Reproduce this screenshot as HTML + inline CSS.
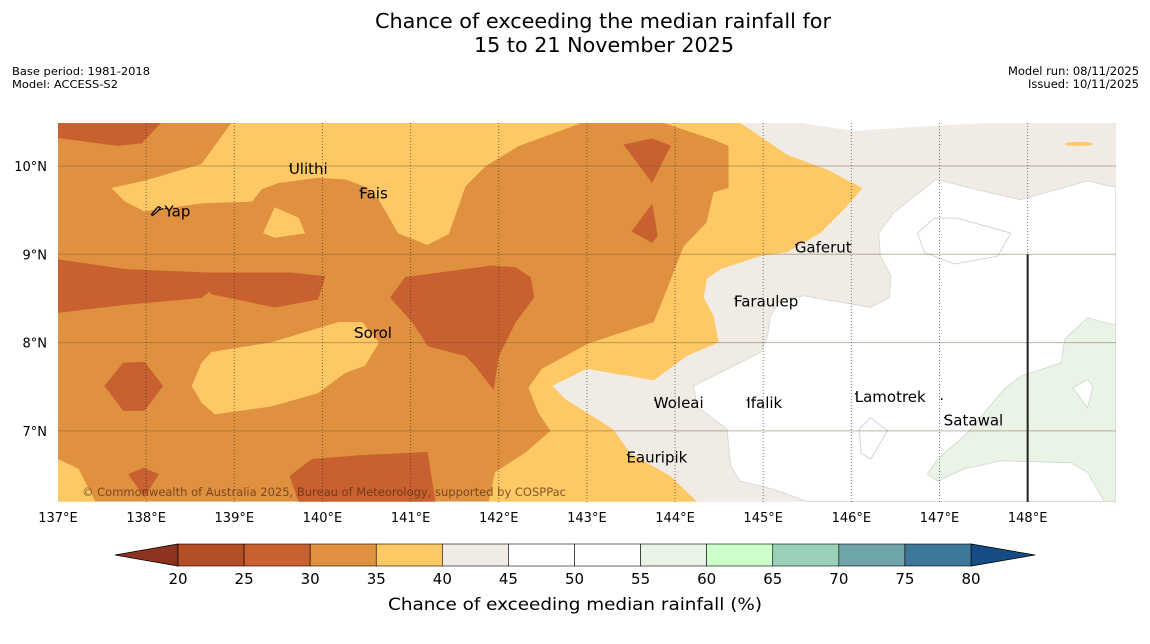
<!DOCTYPE html>
<html><head><meta charset="utf-8">
<style>
body{margin:0;background:#fff;font-family:"DejaVu Sans","Liberation Sans",sans-serif;}
svg{display:block}
</style></head>
<body>
<svg id="chart" width="1150" height="644" viewBox="0 0 1150 644" xmlns="http://www.w3.org/2000/svg" font-family="DejaVu Sans, Liberation Sans, sans-serif">
<text x="603" y="28" text-anchor="middle" font-size="20" textLength="456" lengthAdjust="spacingAndGlyphs" fill="#000">Chance of exceeding the median rainfall for</text>
<text x="604" y="52" text-anchor="middle" font-size="20" textLength="260" lengthAdjust="spacingAndGlyphs" fill="#000">15 to 21 November 2025</text>
<text x="12" y="75" font-size="10.5" textLength="138" lengthAdjust="spacingAndGlyphs">Base period: 1981-2018</text>
<text x="12" y="88" font-size="10.5" textLength="106" lengthAdjust="spacingAndGlyphs">Model: ACCESS-S2</text>
<text x="1139" y="75" font-size="11.5" text-anchor="end" textLength="131" lengthAdjust="spacingAndGlyphs">Model run: 08/11/2025</text>
<text x="1139" y="88" font-size="11.5" text-anchor="end" textLength="111" lengthAdjust="spacingAndGlyphs">Issued: 10/11/2025</text>
<defs><clipPath id="mapclip"><rect x="58" y="123" width="1058" height="379"/></clipPath></defs>
<g id="map" clip-path="url(#mapclip)"></g>
<g id="overlay"></g>
<g id="colorbar"></g>
<text x="575" y="610" text-anchor="middle" font-size="17" textLength="374" lengthAdjust="spacingAndGlyphs">Chance of exceeding median rainfall (%)</text>
</svg>
<script>
// axis extents
const lonMin = 137, lonMax = 149.0, latMin = 6.2, latMax = 10.49;
const lonTicks = [137,138,139,140,141,142,143,144,145,146,147,148];
const latTicks = [7,8,9,10];
const binEdges = [20,25,30,35,40,45,50,55,60,65,70,75,80];
const binColors = ["#b24f27","#c8612f","#e0913f","#fec965","#f0ebe5","#ffffff","#ffffff","#e9f3e6","#ccffcc","#9ad1b9","#6fa5a8","#3f7798"];
const underColor = "#8e3320", overColor = "#154c85";
// contour polygons [lon,lat]
const yellowA = [[138.97,10.49],[142.94,10.49],[142.23,10.23],[141.85,10.0],[141.62,9.77],[141.43,9.23],[141.19,9.11],[140.86,9.24],[140.64,9.62],[140.48,9.77],[140.26,9.85],[139.95,9.87],[139.5,9.81],[139.31,9.74],[139.2,9.6],[138.63,9.58],[137.98,9.49],[137.76,9.6],[137.61,9.75],[137.98,9.83],[138.63,10.02]];
const yellowB = [[143.87,10.49],[144.74,10.49],[145.27,10.13],[145.73,9.96],[146.13,9.75],[145.92,9.51],[145.65,9.24],[145.27,9.02],[144.97,8.98],[144.52,8.83],[144.36,8.72],[144.33,8.51],[144.44,8.3],[144.5,8.0],[144.14,7.85],[143.76,7.57],[143.38,7.28],[143.49,6.75],[143.95,6.49],[144.25,6.2],[141.89,6.2],[141.96,6.53],[142.3,6.75],[142.59,7.0],[142.45,7.21],[142.34,7.49],[142.49,7.7],[143.0,7.98],[143.27,8.07],[143.76,8.23],[143.91,8.6],[144.1,9.09],[144.36,9.36],[144.44,9.7],[144.61,9.75],[144.61,10.23],[144.44,10.3]];
const yellowBlob = [[139.33,9.24],[139.46,9.53],[139.73,9.41],[139.8,9.24],[139.46,9.19]];
const yellowSorol = [[138.52,7.51],[138.63,7.77],[138.74,7.89],[139.42,8.0],[140.18,8.23],[140.45,8.23],[140.64,8.0],[140.48,7.74],[140.26,7.66],[139.95,7.43],[139.42,7.28],[138.78,7.19],[138.63,7.32]];
const yellowSW = [[137,6.68],[137.23,6.57],[137.42,6.2],[137,6.2]];
const dark1 = [[137,10.49],[138.17,10.49],[137.95,10.26],[137.68,10.23],[137,10.32]];
const dark2 = [[137,8.94],[137.76,8.83],[138.7,8.79],[139.65,8.79],[140.03,8.75],[139.95,8.49],[139.46,8.4],[138.74,8.55],[138.72,8.58],[138.63,8.51],[138.44,8.49],[137.76,8.43],[137,8.34]];
const dark3 = [[140.77,8.51],[140.94,8.74],[141.92,8.87],[142.19,8.85],[142.36,8.74],[142.4,8.51],[142.19,8.23],[142.0,7.85],[141.94,7.47],[141.73,7.74],[141.62,7.85],[141.2,7.96],[141.02,8.23]];
const dark4 = [[137.53,7.51],[137.74,7.77],[137.98,7.78],[138.19,7.51],[137.98,7.23],[137.74,7.23]];
const dark5 = [[137.8,6.51],[137.97,6.58],[138.14,6.51],[137.98,6.25]];
const dark6 = [[139.63,6.49],[139.88,6.68],[140.41,6.72],[141.19,6.76],[141.28,6.2],[139.73,6.2]];
const dark7 = [[143.42,10.24],[143.74,10.31],[143.95,10.23],[143.74,9.81]];
const dark8 = [[143.51,9.26],[143.74,9.57],[143.8,9.21],[143.74,9.13]];
const offwhite = [[144.74,10.49],[145.27,10.13],[145.73,9.96],[146.13,9.75],[145.92,9.51],[145.65,9.24],[145.27,9.02],[144.97,8.98],[144.52,8.83],[144.36,8.72],[144.33,8.51],[144.44,8.3],[144.5,8.0],[144.14,7.85],[143.76,7.57],[143.0,7.7],[142.61,7.51],[142.76,7.36],[143.0,7.21],[143.3,7.02],[143.49,6.75],[143.95,6.49],[144.25,6.2],[149,6.2],[149,10.49]];
const whiteMain = [[146.31,9.24],[146.48,9.47],[146.96,9.85],[147.39,9.74],[147.92,9.62],[148.68,9.83],[148.94,9.77],[149,9.77],[149,6.2],[145.5,6.2],[145.12,6.34],[144.74,6.43],[144.63,6.6],[144.59,7.02],[144.25,7.28],[144.21,7.51],[144.59,7.7],[144.97,7.89],[145.05,8.08],[145.08,8.3],[145.2,8.49],[145.46,8.53],[146.22,8.4],[146.43,8.51],[146.45,8.75],[146.33,8.98]];
const whiteTop = [[145.42,10.49],[146.03,10.4],[146.79,10.45],[147.55,10.49]];
const green = [[146.86,6.51],[146.98,6.68],[147.32,6.98],[147.73,7.47],[147.92,7.62],[148.38,7.77],[148.42,8.04],[148.68,8.28],[148.94,8.21],[149,8.21],[149,6.2],[148.87,6.2],[148.68,6.53],[148.49,6.64],[147.7,6.66],[147.28,6.57],[146.98,6.43]];
const greenHole = [[148.51,7.49],[148.68,7.58],[148.74,7.51],[148.68,7.26]];
const loop1 = [[146.75,9.24],[146.94,9.41],[147.2,9.41],[147.81,9.24],[147.66,8.98],[147.17,8.89],[146.83,9.02]];
const loop2 = [[146.09,7.02],[146.22,7.15],[146.41,7.0],[146.22,6.68],[146.11,6.75]];
const islandNames = ["Yap","Ulithi","Fais","Gaferut","Faraulep","Sorol","Woleai","Ifalik","Lamotrek","Satawal","Eauripik"];
const islandLon = [138.22,139.63,140.43,145.37,144.68,140.37,143.77,144.82,146.05,147.06,143.46];
const islandLat = [9.52,10.0,9.72,9.11,8.5,8.14,7.35,7.35,7.42,7.15,6.73];

const X = lon => 58 + (lon - lonMin) * 88.15;
const Y = lat => 166 - (lat - 10) * 88.3;
const NS = "http://www.w3.org/2000/svg";
const map = document.getElementById('map');
function mk(tag, attrs, parent){const e=document.createElementNS(NS,tag);for(const k in attrs)e.setAttribute(k,attrs[k]);parent.appendChild(e);return e;}
function pts(poly){return poly.map(p=>X(p[0]).toFixed(1)+","+Y(p[1]).toFixed(1)).join(" ");}

const bg = mk('rect',{x:X(lonMin),y:Y(latMax),width:X(lonMax)-X(lonMin),height:Y(latMin)-Y(latMax),fill:"#e0913f"},map);


function fillPoly(poly,color,name,stroke){
  const e = mk('polygon',{points:pts(poly),fill:color,stroke:stroke||color,'stroke-width':stroke?0.8:0.5},map);
  
  
}
[yellowA,yellowB,yellowBlob,yellowSorol,yellowSW].forEach(p=>fillPoly(p,"#fec965","contour-35-40"));
[dark1,dark2,dark3,dark4,dark5,dark6,dark7,dark8].forEach(p=>fillPoly(p,"#c8612f","contour-25-30"));
fillPoly(offwhite,"#f0ebe5","contour-40-45");
fillPoly(whiteMain,"#ffffff","contour-45-55","#d8d4d0");
fillPoly(whiteTop,"#ffffff","contour-45-55-top");
fillPoly(green,"#e9f3e6","contour-55-60","#d0d8ce");
fillPoly(greenHole,"#ffffff","contour-55-60-hole","#d0d8ce");
[loop1,loop2].forEach(p=>{const e=mk('polygon',{points:pts(p),fill:"none",stroke:"#d4d4d4",'stroke-width':1},map);
 
 });
const blob = mk('ellipse',{cx:X(148.58),cy:Y(10.25),rx:14,ry:2,fill:"#fec965"},map);



// gridlines
latTicks.forEach(t=>{const l=mk('line',{x1:58,x2:1116,y1:Y(t),y2:Y(t),stroke:"rgba(110,90,60,0.45)",'stroke-width':1},map);
 
 });
lonTicks.slice(1).forEach(t=>{const l=mk('line',{x1:X(t),x2:X(t),y1:123,y2:502,stroke:"rgba(40,40,40,0.6)",'stroke-width':1,'stroke-dasharray':'1,2'},map);
 
 });
const vl = mk('line',{x1:X(148),x2:X(148),y1:Y(9),y2:502,stroke:"#222",'stroke-width':2},map);



// islands
islandNames.forEach((n,i)=>{
  const d=mk('circle',{cx:X(islandLon[i]),cy:Y(islandLat[i]),r:0.8,fill:"#000"},map);
  
  
  const t=mk('text',{x:X(islandLon[i])-1,y:Y(islandLat[i])+8,'font-size':15,fill:"#000"},map);
  t.textContent=n;
  
  
});
const yapShape = mk('path',{d:`M${X(138.06)} ${Y(9.45)} l4 -5 l3 -3 l2 1 l-3 4 l-5 4 z M${X(138.06)+6} ${Y(9.45)-4} l6 -2`,fill:"none",stroke:"#000",'stroke-width':1.2},map);


const dot=mk('text',{x:X(147.0),y:Y(7.35),'font-size':14},map);
dot.textContent=".";


const cr=mk('text',{x:82,y:496,'font-size':11.5,fill:"rgba(90,45,20,0.75)",textLength:484,lengthAdjust:"spacingAndGlyphs"},map);
cr.textContent="© Commonwealth of Australia 2025, Bureau of Meteorology, supported by COSPPac";



// axis tick labels
const ov=document.getElementById('overlay');
latTicks.forEach(t=>{const e=mk('text',{x:47,y:Y(t)+5,'text-anchor':'end','font-size':13},ov);
 e.textContent=t+"°N";
 
 });
lonTicks.forEach(t=>{const e=mk('text',{x:X(t),y:522,'text-anchor':'middle','font-size':13},ov);
 e.textContent=t+"°E";
 
 });

// colorbar
const cb=document.getElementById('colorbar');
const cbX0=178,cbX1=971,cbY=544,cbH=22;
const CX=v=>cbX0+(v-binEdges[0])/(binEdges[binEdges.length-1]-binEdges[0])*(cbX1-cbX0);
const lt=mk('polygon',{points:`115,${cbY+cbH/2} ${cbX0},${cbY} ${cbX0},${cbY+cbH}`,fill:underColor,stroke:"#000",'stroke-width':0.8},cb);


const rt=mk('polygon',{points:`1035,${cbY+cbH/2} ${cbX1},${cbY} ${cbX1},${cbY+cbH}`,fill:overColor,stroke:"#000",'stroke-width':0.8},cb);


binColors.forEach((c,i)=>{const r=mk('rect',{x:CX(binEdges[i]),y:cbY,width:CX(binEdges[i+1])-CX(binEdges[i]),height:cbH,fill:c,stroke:"#000",'stroke-width':0.6},cb);
 
 });
binEdges.forEach(v=>{const t=mk('text',{x:CX(v),y:584,'text-anchor':'middle','font-size':15},cb);
 t.textContent=v;
 
 });
</script>
</body></html>
